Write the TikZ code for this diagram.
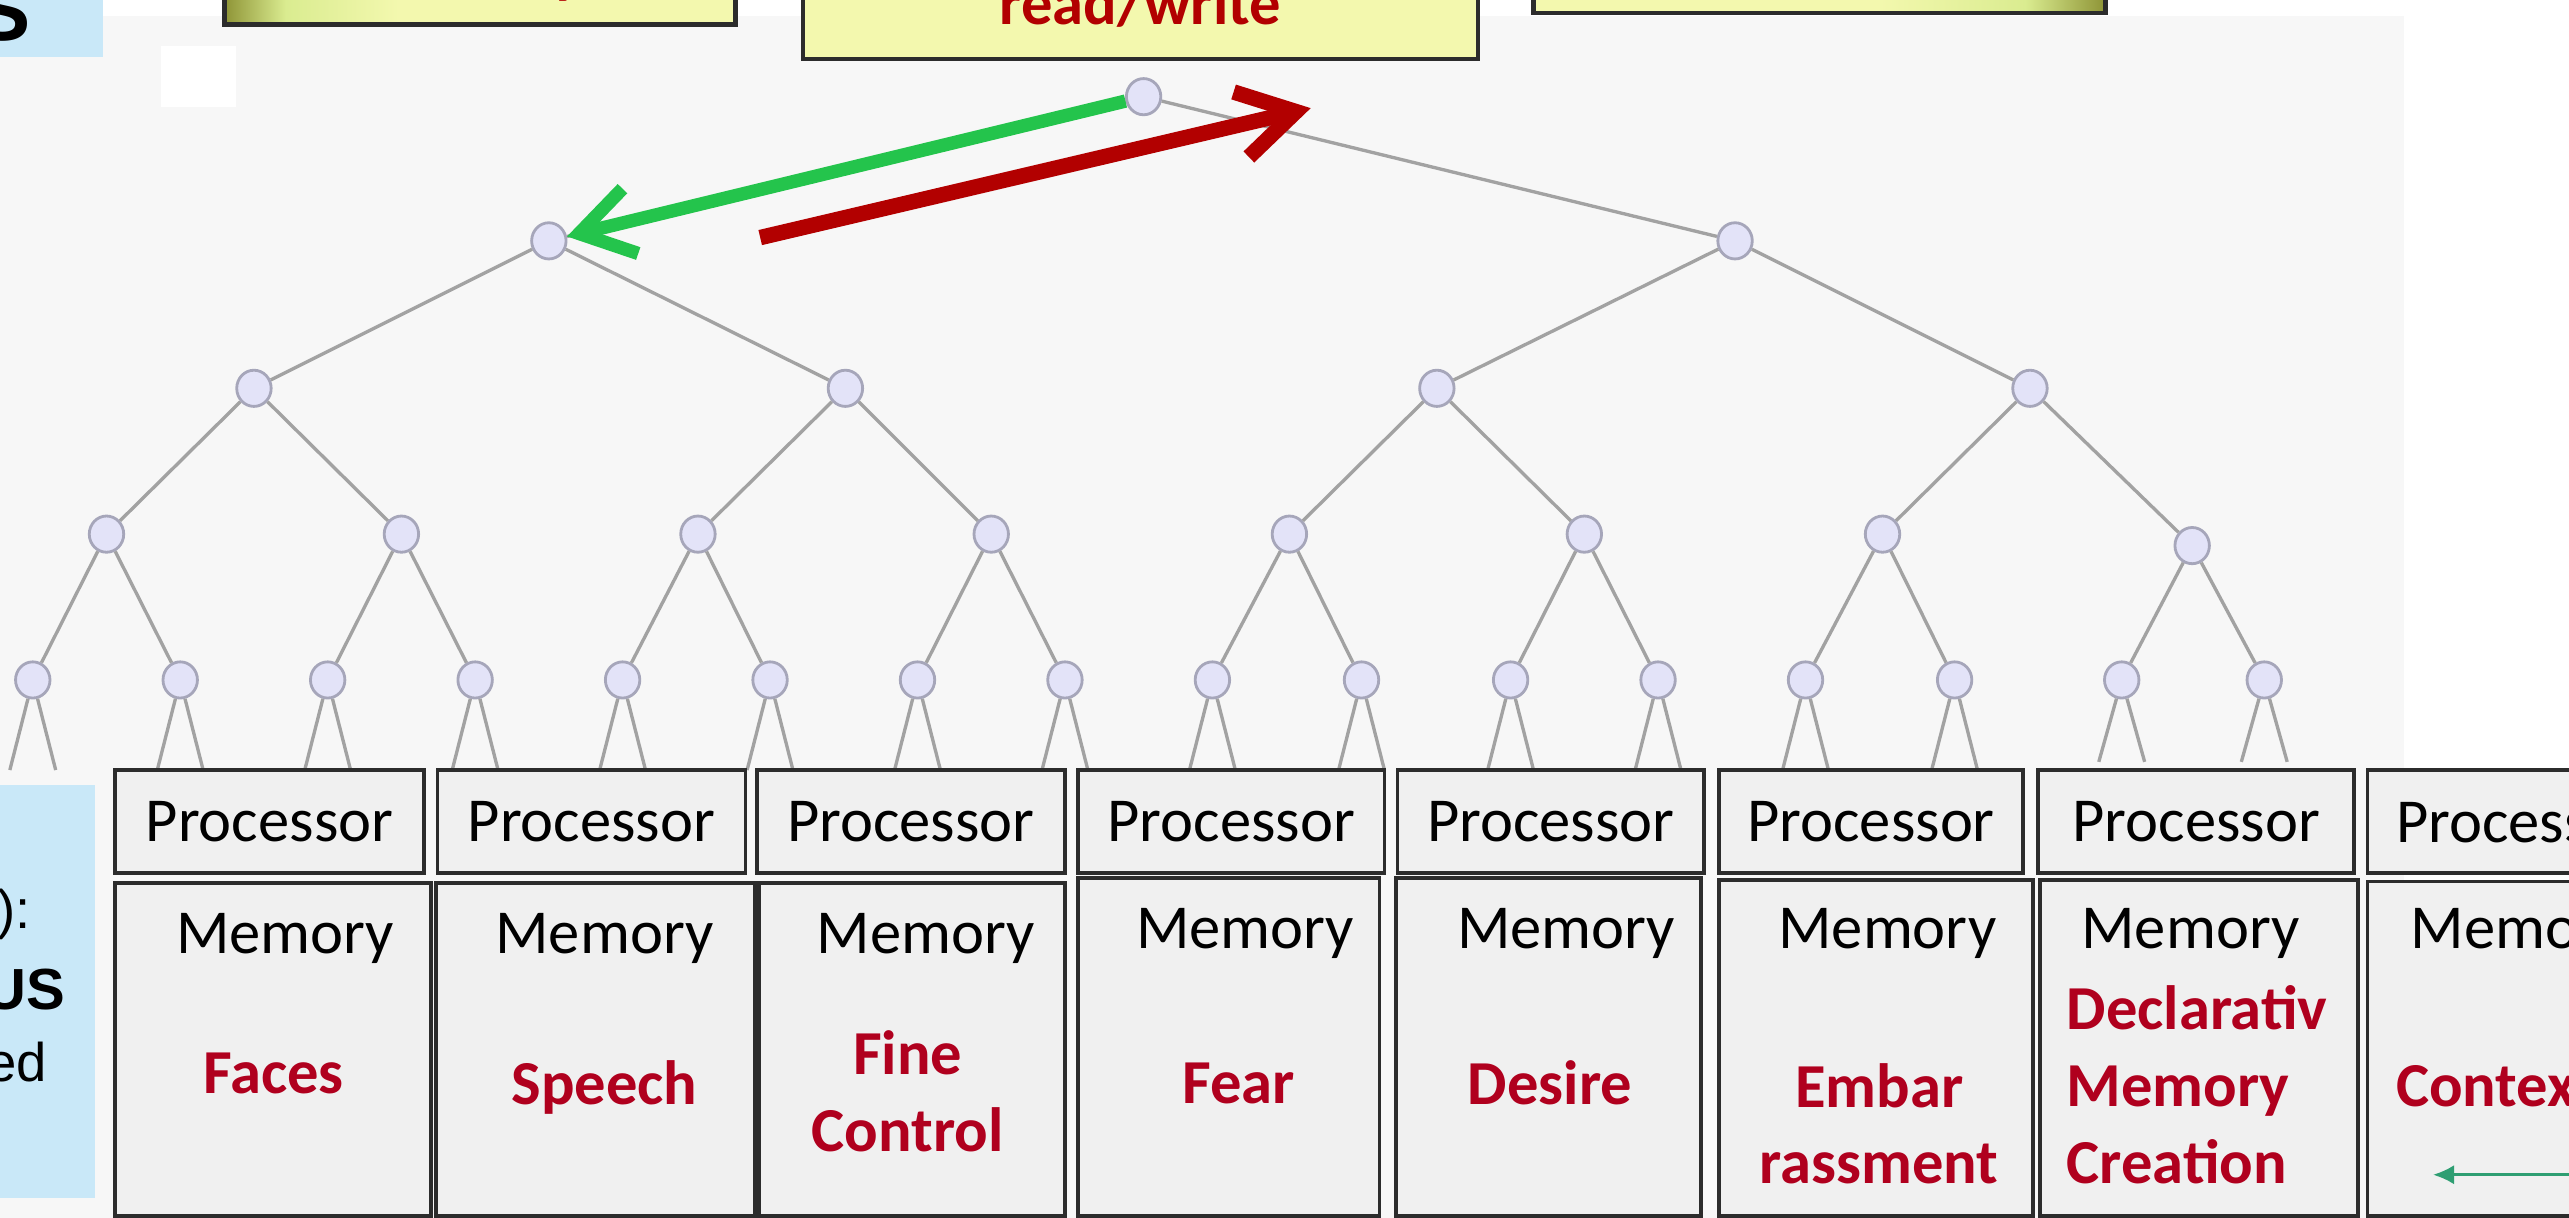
\documentclass[tikz,border=0pt]{standalone}
\usepackage{fontspec}
\setmainfont{Carlito}
\newfontfamily\panelfont{Liberation Sans}
\usetikzlibrary{arrows.meta,calc,shapes.geometric,fit}

\definecolor{bgGrey}{HTML}{F7F7F7}
\definecolor{panelBlue}{HTML}{C9E8F8}
\definecolor{paleYellow}{HTML}{F3F8AE}
\definecolor{oliveDark}{HTML}{8E9436}
\definecolor{limeMid}{HTML}{DAEC90}
\definecolor{boxGrey}{HTML}{F0F0F0}
\definecolor{frameDark}{HTML}{2C2C2C}
\definecolor{edgeGrey}{HTML}{A2A2A2}
\definecolor{nodeFill}{HTML}{E3E3F8}
\definecolor{nodeRim}{HTML}{A6A6BA}
\definecolor{labelRed}{HTML}{B0001E}
\definecolor{readGreen}{HTML}{24C44C}
\definecolor{writeRed}{HTML}{B20000}
\definecolor{linkTeal}{HTML}{2E9E72}

% horizontal fades for the two framed boxes along the top edge
\pgfdeclarehorizontalshading{fadeFromOlive}{100bp}{color(0bp)=(oliveDark); color(25bp)=(oliveDark); color(31bp)=(limeMid); color(42bp)=(paleYellow); color(100bp)=(paleYellow)}
\pgfdeclarehorizontalshading{fadeToOlive}{100bp}{color(0bp)=(paleYellow); color(55bp)=(paleYellow); color(68bp)=(limeMid); color(75bp)=(oliveDark); color(100bp)=(oliveDark)}

\newcommand\lblsize{\fontsize{17.8pt}{21.8pt}\selectfont}

\begin{document}
\begin{tikzpicture}[x=0.46617pt, y=-0.46617pt,
  treelink/.style={draw=edgeGrey, line width=0.95pt},
  treenode/.style={ellipse, draw=nodeRim, fill=nodeFill, line width=0.8pt,
    minimum width=9.8pt, minimum height=10.3pt, inner sep=0pt},
  topbox/.style={draw=frameDark, line width=1.3pt, inner sep=0pt},
  procbox/.style={draw=frameDark, fill=boxGrey, line width=1.1pt, inner sep=0pt},
  membox/.style={draw=frameDark, fill=boxGrey, line width=1.1pt, inner sep=0pt},
  plain/.style={font=\lblsize, inner sep=0pt},
  memtitle/.style={font=\lblsize, inner sep=0pt, anchor=west},
  topic/.style={font=\lblsize\bfseries, text=labelRed, inner sep=0pt, align=center},
  readlink/.style={draw=readGreen, line width=3.8pt,
    -{Straight Barb[length=15pt,width=19pt]}},
  writelink/.style={draw=writeRed, line width=4.4pt,
    -{Straight Barb[length=16pt,width=19pt]}},
  ctxlink/.style={draw=linkTeal, line width=0.8pt, -{Latex[length=6pt,width=5.5pt]}},
  sidetext/.style={font=\panelfont\fontsize{15.5pt}{18pt}\selectfont, inner sep=0pt, anchor=base east}
]
\useasboundingbox (0,0) rectangle (1568,743.4);
\clip (0,0) rectangle (1568,743.4);

% page and slide background
\fill[white] (0,0) rectangle (1568,743.4);
\fill[bgGrey] (0,10) rectangle (1467,743.4);
\fill[white] (98,28) rectangle (144,65);

% light blue side panels, cut by the left edge
\fill[panelBlue] (0,0) rectangle (63,35);
\fill[panelBlue] (0,479) rectangle (58,731);
\node[font=\panelfont\bfseries\fontsize{24pt}{26pt}\selectfont, inner sep=0pt, anchor=base east] (sideS) at (19,25) {S};
\node[sidetext] (sideA) at (19,567) {):};
\node[sidetext, font=\panelfont\bfseries\fontsize{16.5pt}{19pt}\selectfont] (sideB) at (40,616) {US};
\node[sidetext] (sideC) at (29,660) {ed};

% framed boxes along the top edge
\node[topbox, shade, shading=fadeFromOlive, fit={(137,-40) (449,15)}] (boxL) {};
\node[topbox, fill=paleYellow, fit={(490,-40) (902,36)}] (boxM) {};
\node[topbox, shade, shading=fadeToOlive, fit={(936,-40) (1285,8)}] (boxR) {};
\node[font=\lblsize\bfseries, text=writeRed, inner sep=0pt, anchor=base] (topL) at (347,-5) {y};
\node[font=\lblsize\bfseries, text=writeRed, inner sep=0pt, anchor=base] (rw) at (696,15) {read/write};

% binary tree
\node[treenode] (t0) at (698,59) {};
\node[treenode] (t1) at (335,147) {};
\node[treenode] (t2) at (1059,147) {};
\node[treenode] (t3) at (155,237) {};
\node[treenode] (t4) at (516,237) {};
\node[treenode] (t5) at (877,237) {};
\node[treenode] (t6) at (1239,237) {};
\node[treenode] (t7) at (65,326) {};
\node[treenode] (t8) at (245,326) {};
\node[treenode] (t9) at (426,326) {};
\node[treenode] (t10) at (605,326) {};
\node[treenode] (t11) at (787,326) {};
\node[treenode] (t12) at (967,326) {};
\node[treenode] (t13) at (1149,326) {};
\node[treenode] (t14) at (1338,333) {};
\foreach \k/\xx in {15/20,16/110,17/200,18/290,19/380,20/470,21/560,22/650,
                    23/740,24/831,25/922,26/1012,27/1102,28/1193,29/1295,30/1382}
  \node[treenode] (t\k) at (\xx,415) {};

\foreach \k in {0,...,14}{
  \pgfmathtruncatemacro\lc{2*\k+1}
  \pgfmathtruncatemacro\rc{2*\k+2}
  \draw[treelink] (t\k) -- (t\lc);
  \draw[treelink] (t\k) -- (t\rc);
}
% short legs from the lowest nodes down to the processor row
\foreach \k/\d in {15/55,16/55,17/55,18/55,19/55,20/55,21/55,22/55,
                   23/55,24/55,25/55,26/55,27/55,28/55,29/50,30/50}{
  \coordinate (legL\k) at ($(t\k.center)+(-14,\d)$);
  \coordinate (legR\k) at ($(t\k.center)+(14,\d)$);
  \draw[treelink] (t\k) -- (legL\k);
  \draw[treelink] (t\k) -- (legR\k);
}

% read and write arrows
\draw[readlink] (t0) -- (t1);
\coordinate (wBegin) at (464,145);
\coordinate (wEnd) at (800,66);
\draw[writelink] (wBegin) -- (wEnd);

% processor row
\node[procbox, fit={(70,470) (259,533)}] (p1) {};
\node[procbox, fit={(267,470) (455,533)}] (p2) {};
\node[procbox, fit={(462,470) (650,533)}] (p3) {};
\node[procbox, fit={(658,470) (845,533)}] (p4) {};
\node[procbox, fit={(853,470) (1040,533)}] (p5) {};
\node[procbox, fit={(1049,470) (1235,533)}] (p6) {};
\node[procbox, fit={(1244,470) (1437,533)}] (p7) {};
\node[procbox, fit={(1445,470) (1640,533)}] (p8) {};
\foreach \k in {1,...,7}
  \node[plain] (pt\k) at (p\k.center) {Processor};
\node[plain, anchor=west] (pt8) at (1462,502) {Processor};

% memory row
\node[membox, fit={(70,539) (263,742)}] (m1) {};
\node[membox, fit={(266,539) (461,742)}] (m2) {};
\node[membox, fit={(463,539) (650,742)}] (m3) {};
\node[membox, fit={(658,536) (842,742)}] (m4) {};
\node[membox, fit={(852,536) (1038,742)}] (m5) {};
\node[membox, fit={(1049,537) (1241,742)}] (m6) {};
\node[membox, fit={(1245,537) (1439,742)}] (m7) {};
\node[membox, fit={(1445,538) (1640,742)}] (m8) {};

\node[memtitle] (mt1) at (107,573) {Memory};
\node[memtitle] (mt2) at (302,573) {Memory};
\node[memtitle] (mt3) at (498,573) {Memory};
\node[memtitle] (mt4) at (693,570) {Memory};
\node[memtitle] (mt5) at (889,570) {Memory};
\node[memtitle] (mt6) at (1085,570) {Memory};
\node[memtitle] (mt7) at (1270,570) {Memory};
\node[memtitle] (mt8) at (1471,570) {Memory};

\node[topic] (lb1) at (167,655) {Faces};
\node[topic] (lb2) at (369,664) {Speech};
\node[topic] (lb3) at (554,666) {Fine\\Control};
\node[topic] (lb4) at (756,661) {Fear};
\node[topic] (lb5) at (946,661) {Desire};
\node[topic] (lb6) at (1147,686) {Embar\\rassment};
\node[topic, align=left, anchor=west] (lb7) at (1261,662) {Declarativ\\Memory\\Creation};
\node[topic, anchor=west] (lb8) at (1462,663) {Context};

\coordinate (ctxFrom) at (1580,717);
\coordinate (ctxTo) at (1485,717);
\draw[ctxlink] (ctxFrom) -- (ctxTo);
\end{tikzpicture}
\end{document}
